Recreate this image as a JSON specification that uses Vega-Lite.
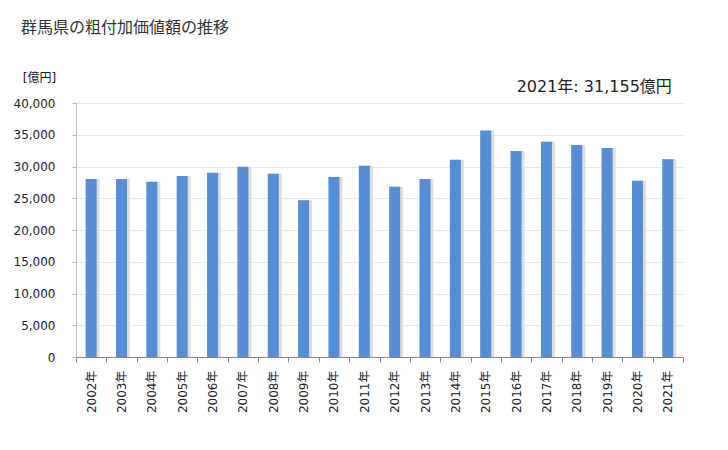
{
  "$schema": "https://vega.github.io/schema/vega-lite/v6.json",
  "width": 607,
  "height": 254,
  "autosize": "none",
  "padding": {"left": 76, "top": 103, "right": 45, "bottom": 93},
  "background": "white",
  "config": {
    "font": "DejaVu Sans, Noto Sans CJK JP",
    "view": {"stroke": null},
    "axisY": {"labelOverlap": false}
  },
  "title": {
    "text": "群馬県の粗付加価値額の推移",
    "anchor": "start",
    "frame": "group",
    "dx": -55,
    "offset": 35,
    "fontSize": 16,
    "fontWeight": "normal",
    "color": "#333333",
    "font": "Noto Sans CJK JP"
  },
  "datasets": {
    "gva": [
      {"year": "2002年", "value": 28050},
      {"year": "2003年", "value": 28050},
      {"year": "2004年", "value": 27600},
      {"year": "2005年", "value": 28500},
      {"year": "2006年", "value": 29000},
      {"year": "2007年", "value": 29950},
      {"year": "2008年", "value": 28850},
      {"year": "2009年", "value": 24700},
      {"year": "2010年", "value": 28350},
      {"year": "2011年", "value": 30100},
      {"year": "2012年", "value": 26800},
      {"year": "2013年", "value": 28050},
      {"year": "2014年", "value": 31050},
      {"year": "2015年", "value": 35650},
      {"year": "2016年", "value": 32450},
      {"year": "2017年", "value": 33900},
      {"year": "2018年", "value": 33400},
      {"year": "2019年", "value": 32900},
      {"year": "2020年", "value": 27750},
      {"year": "2021年", "value": 31155}
    ],
    "note": [
      {"year": "2021年", "label": "2021年: 31,155億円"}
    ]
  },
  "layer": [
    {
      "data": {"name": "gva"},
      "mark": {"type": "bar", "color": "#dedede", "size": 14, "xOffset": 1.5},
      "encoding": {
        "x": {
          "field": "year",
          "type": "nominal",
          "sort": null,
          "scale": {"paddingInner": 0, "paddingOuter": 0},
          "axis": {
            "title": null,
            "labelAngle": -90,
            "labelAlign": "right",
            "labelBaseline": "middle",
            "labelFontSize": 12,
            "labelColor": "#222222",
            "labelPadding": 8,
            "tickBand": "extent",
            "tickSize": 5,
            "tickColor": "#888888",
            "domainColor": "#888888",
            "grid": false
          }
        },
        "y": {
          "field": "value",
          "type": "quantitative",
          "scale": {"domain": [0, 40000], "nice": false},
          "axis": {
            "title": "[億円]",
            "titleAngle": 0,
            "titleAlign": "center",
            "titleBaseline": "middle",
            "titleX": -37,
            "titleY": -26,
            "titleFontSize": 12,
            "titleFontWeight": "normal",
            "titleColor": "#222222",
            "tickCount": 8,
            "format": ",d",
            "labelOverlap": false,
            "labelFontSize": 12,
            "labelColor": "#222222",
            "labelPadding": 17,
            "tickSize": 4,
            "tickColor": "#bbbbbb",
            "domainColor": "#bbbbbb",
            "gridColor": "#e8e8e8"
          }
        }
      }
    },
    {
      "data": {"name": "gva"},
      "mark": {"type": "bar", "color": "#558ed5", "size": 11},
      "encoding": {
        "x": {"field": "year", "type": "nominal", "sort": null},
        "y": {"field": "value", "type": "quantitative"}
      }
    },
    {
      "data": {"name": "note"},
      "mark": {"type": "text", "align": "right", "baseline": "middle", "fontSize": 16, "color": "#222222", "dx": 4, "clip": false},
      "encoding": {
        "x": {"field": "year", "type": "nominal", "sort": null},
        "y": {"datum": 42500},
        "text": {"field": "label"}
      }
    }
  ]
}
